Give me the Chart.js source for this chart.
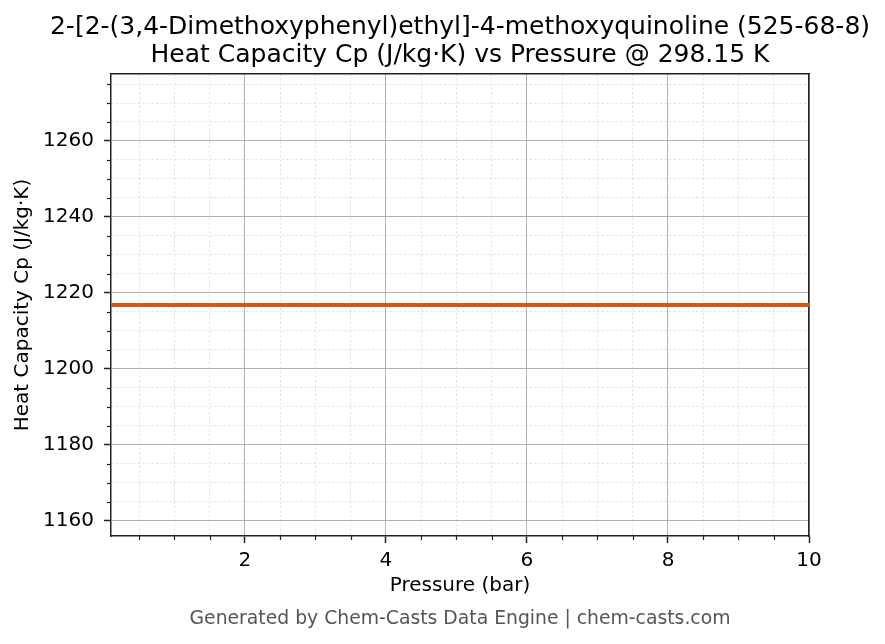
<!DOCTYPE html>
<html>
<head>
<meta charset="utf-8">
<script src="https://cdn.jsdelivr.net/npm/chart.js@4/dist/chart.umd.min.js"></script>
<style>
  html, body { margin: 0; padding: 0; background: #fff; }
  #wrap { width: 885px; height: 644px; }
</style>
</head>
<body>
<div id="wrap"><canvas id="c" width="885" height="644"></canvas></div>
<script>
// ---- data ----
const titleLines = ["2-[2-(3,4-Dimethoxyphenyl)ethyl]-4-methoxyquinoline (525-68-8)", "Heat Capacity Cp (J/kg·K) vs Pressure @ 298.15 K"];
const xLabel = "Pressure (bar)";
const yLabel = "Heat Capacity Cp (J/kg·K)";
const footerText = "Generated by Chem-Casts Data Engine | chem-casts.com";
const pressure = [0.1, 1, 2, 3, 4, 5, 6, 7, 8, 9, 10];
const heatCapacity = [1216.8, 1216.8, 1216.8, 1216.8, 1216.8, 1216.8, 1216.8, 1216.8, 1216.8, 1216.8, 1216.8];
const xRange = [0.1, 10];
const yRange = [1155.96, 1277.64];
const xMajorStep = 2, xMinorStep = 0.5;
const yMajorStep = 20, yMinorStep = 5;

const FONT = "'DejaVu Sans', 'Liberation Sans', sans-serif";
const SPINE = '#222222';
const LEFT_PAD = 35;

function isMult(v, step) { const r = Math.abs(v / step - Math.round(v / step)); return r < 1e-6; }

const minorTicks = {
  id: 'minorTicks',
  afterDraw(chart) {
    const ctx = chart.ctx, ca = chart.chartArea;
    ctx.save();
    ctx.strokeStyle = SPINE;
    ctx.lineWidth = 1.2;
    const xm = chart.scales.xMinor, ym = chart.scales.yMinor;
    xm.ticks.forEach(t => {
      if (isMult(t.value, xMajorStep)) return;
      const px = Math.round(xm.getPixelForValue(t.value)) + 0.5;
      ctx.beginPath(); ctx.moveTo(px, ca.bottom); ctx.lineTo(px, ca.bottom + 4); ctx.stroke();
    });
    ym.ticks.forEach(t => {
      if (isMult(t.value, yMajorStep)) return;
      const py = Math.round(ym.getPixelForValue(t.value)) + 0.5;
      ctx.beginPath(); ctx.moveTo(ca.left - 4, py); ctx.lineTo(ca.left, py); ctx.stroke();
    });
    ctx.restore();
  }
};

const data = pressure.map((p, i) => ({ x: p, y: heatCapacity[i] }));

new Chart(document.getElementById('c'), {
  type: 'line',
  data: {
    datasets: [{
      data: data,
      xAxisID: 'x',
      yAxisID: 'y',
      borderColor: '#d9531e',
      backgroundColor: '#d9531e',
      borderWidth: 3.8,
      pointRadius: 0,
      tension: 0,
      fill: false
    }]
  },
  options: {
    responsive: false,
    devicePixelRatio: 1,
    animation: false,
    layout: { padding: { left: LEFT_PAD, right: 0, top: 0, bottom: 0 } },
    plugins: {
      legend: { display: false },
      tooltip: { enabled: false },
      title: {
        display: true,
        text: titleLines,
        color: '#000',
        font: { family: FONT, size: 25, weight: 'normal', lineHeight: 1.1 },
        padding: { top: 14, bottom: 5 }
      },
      subtitle: {
        display: true,
        position: 'bottom',
        text: footerText,
        color: '#555555',
        font: { family: FONT, size: 18.8, weight: 'normal', lineHeight: 1.2 },
        padding: { top: 0, bottom: 13.7 }
      }
    },
    scales: {
      x: {
        type: 'linear', position: 'bottom',
        min: xRange[0], max: xRange[1],
        ticks: { stepSize: xMajorStep, includeBounds: false, color: '#000', font: { family: FONT, size: 20 }, padding: 6, maxRotation: 0, autoSkip: false,
                 callback: v => String(v) },
        grid: { color: '#b0b0b0', lineWidth: 1, tickLength: 7, tickColor: SPINE, tickWidth: 1.5, z: 0 },
        border: { display: true, color: SPINE, width: 1.5 },
        title: { display: true, text: xLabel, color: '#000', font: { family: FONT, size: 20 }, padding: { top: 0, bottom: 9.8 } },
        afterFit(s) { s.height = 71.7; }
      },
      xMinor: {
        type: 'linear', position: 'bottom',
        min: xRange[0], max: xRange[1],
        ticks: { display: false, stepSize: xMinorStep, includeBounds: false, autoSkip: false },
        grid: {
          drawTicks: false, lineWidth: 0.8,
          color: ctx => (ctx.tick && isMult(ctx.tick.value, xMajorStep)) ? 'rgba(0,0,0,0)' : '#dcdcdc'
        },
        border: { display: false, dash: [2.5, 2] },
        afterFit(s) { s.height = 0; }
      },
      x2: {
        type: 'linear', position: 'top',
        min: xRange[0], max: xRange[1],
        ticks: { display: false },
        grid: { display: false, drawTicks: false },
        border: { display: true, color: SPINE, width: 1.5 },
        afterFit(s) { s.height = 0; }
      },
      y: {
        type: 'linear', position: 'left',
        min: yRange[0], max: yRange[1],
        ticks: { stepSize: yMajorStep, includeBounds: false, color: '#000', font: { family: FONT, size: 20 }, padding: 10, autoSkip: false,
                 callback: v => String(v) },
        grid: { color: '#b0b0b0', lineWidth: 1, tickLength: 7, tickColor: SPINE, tickWidth: 1.5, z: 0 },
        border: { display: true, color: SPINE, width: 1.5 },
        title: { display: true, text: yLabel, color: '#000', font: { family: FONT, size: 20 }, padding: { top: 11 - LEFT_PAD, bottom: 0 } },
        afterFit(s) { s.width = 111 - LEFT_PAD; }
      },
      yMinor: {
        type: 'linear', position: 'left',
        min: yRange[0], max: yRange[1],
        ticks: { display: false, stepSize: yMinorStep, includeBounds: false, autoSkip: false },
        grid: {
          drawTicks: false, lineWidth: 0.8,
          color: ctx => (ctx.tick && isMult(ctx.tick.value, yMajorStep)) ? 'rgba(0,0,0,0)' : '#dcdcdc'
        },
        border: { display: false, dash: [2.5, 2] },
        afterFit(s) { s.width = 0; }
      },
      y2: {
        type: 'linear', position: 'right',
        min: yRange[0], max: yRange[1],
        ticks: { display: false },
        grid: { display: false, drawTicks: false },
        border: { display: true, color: SPINE, width: 1.5 },
        afterFit(s) { s.width = 76; }
      }
    }
  },
  plugins: [minorTicks]
});
</script>
</body>
</html>
